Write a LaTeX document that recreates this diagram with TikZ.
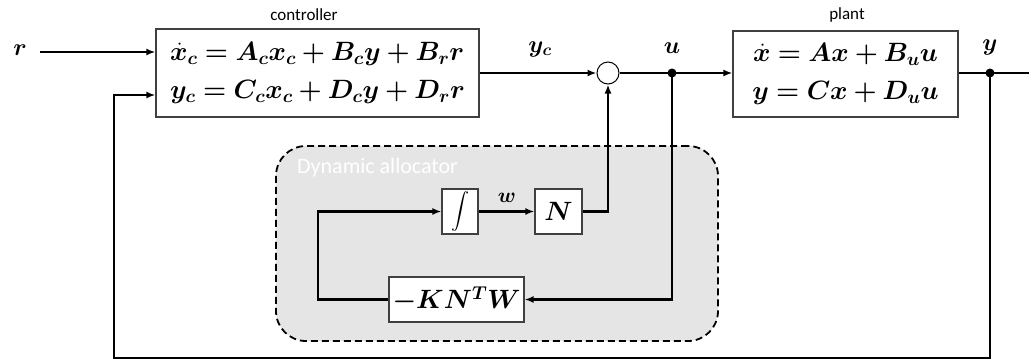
\RequirePackage{fix-cm}
\documentclass[tikz,border=0pt]{standalone}
\usepackage{bm}
\usepackage{graphicx}
\usepackage{fontspec}
\newfontfamily\carl{Carlito}
\usetikzlibrary{arrows.meta}
\tikzset{
  blk/.style={draw=black!75, line width=1.2pt, fill=white, inner sep=0pt},
  wire/.style={line width=2.8pt},
  conn/.style={line width=2.8pt, -{Latex[length=9pt,width=7pt]}},
  eqtxt/.style={font=\fontsize{26.5}{38}\selectfont},
  lbl/.style={font=\fontsize{24}{28}\selectfont, inner sep=0pt},
  captxt/.style={font=\carl\fontsize{17}{20}\selectfont, inner sep=0pt},
  jdot/.style={circle, fill=black, inner sep=0pt, minimum size=9pt},
}
\begin{document}
\begin{tikzpicture}[x=1pt,y=-1pt]
\useasboundingbox (0,0) rectangle (1029,362);
% allocator region
\node[draw=black, dashed, dash pattern=on 7pt off 4pt, line width=1.8pt, fill=black!10,
      rounded corners=30pt, minimum width=442pt, minimum height=195pt, inner sep=0pt]
      (alloc) at (497,243.5) {};
\node[font=\carl\fontsize{22}{26}\selectfont, text=white, anchor=west, inner sep=0pt]
      (alloclbl) at (297,168) {Dynamic allocator};
% blocks
\node[blk, eqtxt, minimum width=323pt, minimum height=88pt, align=left] (ctrl) at (317.5,73)
  {$\bm{\dot x_c = A_c x_c + B_c y + B_r r}$\\ $\bm{y_c = C_c x_c + D_c y + D_r r}$};
\node[captxt] (ctrllbl) at (304,15) {controller};
\node[blk, eqtxt, minimum width=225pt, minimum height=86pt, align=center] (plant) at (845.5,74)
  {$\bm{\dot x = Ax + B_u u}$\\ $\bm{y = Cx + D_u u}$};
\node[captxt] (plantlbl) at (847,15) {plant};
\node[circle, draw=black, line width=1pt, minimum size=22pt, inner sep=0pt, fill=white] (sum) at (608,73) {};
\node[jdot] (udot) at (672,73) {};
\node[jdot] (ydot) at (990,73) {};
\node[blk, minimum width=36pt, minimum height=45pt, font=\fontsize{10}{12}\selectfont] (int) at (460,211.5) {\scalebox{1.8}{$\displaystyle\int$}};
\node[blk, minimum width=47pt, minimum height=45pt, eqtxt] (N) at (558.5,211.5) {$\bm{N}$};
\node[blk, minimum width=135pt, minimum height=45pt, eqtxt] (K) at (456.5,299.5) {$\bm{-KN^TW}$};
% labels
\node[lbl] (rlbl) at (20,50) {$\bm{r}$};
\node[lbl] (yclbl) at (540,49) {$\bm{y_c}$};
\node[lbl] (ulbl) at (672,48) {$\bm{u}$};
\node[lbl] (ylbl) at (990,47) {$\bm{y}$};
\node[lbl, font=\fontsize{21}{24}\selectfont] (wlbl) at (507,198) {$\bm{w}$};
% coordinates
\coordinate (rin) at (40,52);
\coordinate (fbin) at (156,95);
\coordinate (fbl) at (114,358);
\coordinate (outp) at (1038,73);
\coordinate (kl) at (318,299.5);
% connectors
\draw[conn] (rin) -- (ctrl.west |- rin);
\draw[conn] (ctrl.east |- sum) -- (sum.west);
\draw[wire] (sum.east) -- (udot.center);
\draw[conn] (udot.center) -- (plant.west |- udot);
\draw[wire] (plant.east |- ydot) -- (ydot.center);
\draw[conn] (ydot.center) -- (outp);
\draw[conn] (ydot.center) |- (fbl) |- (ctrl.west |- fbin);
\draw[conn] (N.east) -| (sum.south);
\draw[conn] (udot.center) |- (K.east);
\draw[conn] (K.west) -| (kl) |- (int.west);
\draw[conn] (int.east) -- (N.west);
\end{tikzpicture}
\end{document}
